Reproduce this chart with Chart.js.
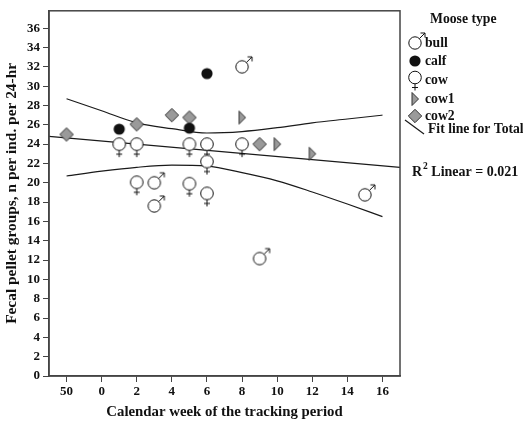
<!DOCTYPE html>
<html><head><meta charset="utf-8">
<script src="https://cdn.jsdelivr.net/npm/chart.js@4"></script>
<style>html,body{margin:0;padding:0;background:#fff}#wrap{width:523px;height:425px;position:relative}</style>
</head><body><div id="wrap"><canvas id="c" width="523" height="425"></canvas></div>
<script>
// ---- data ----
const xTickValues = [-2, 0, 2, 4, 6, 8, 10, 12, 14, 16];
const xTickLabels = ["50", "0", "2", "4", "6", "8", "10", "12", "14", "16"];
const yTickValues = [0, 2, 4, 6, 8, 10, 12, 14, 16, 18, 20, 22, 24, 26, 28, 30, 32, 34, 36];
const seriesNames = ["bull", "calf", "cow", "cow1", "cow2"];
const bullX = [3, 3, 8, 9, 15];
const bullY = [20.0, 17.6, 32.0, 12.15, 18.75];
const calfX = [1, 5, 6];
const calfY = [25.55, 25.65, 31.3];
const cowX = [1, 2, 5, 6, 8, 6, 2, 5, 6];
const cowY = [24.0, 24.0, 24.0, 24.0, 24.0, 22.2, 20.05, 19.9, 18.9];
const cow1X = [8, 10, 12];
const cow1Y = [26.75, 24.0, 23.0];
const cow2X = [-2, 2, 4, 5, 9];
const cow2Y = [25.0, 26.05, 27.0, 26.75, 24.0];
const fitX = [-3, 17];
const fitY = [24.8, 21.6];
const ciX = [-2, 0, 2, 4, 6, 8, 10, 12, 14, 16];
const ciUpper = [28.7, 27.45, 26.2, 25.6, 25.15, 25.3, 25.7, 26.2, 26.6, 27.0];
const ciLower = [20.7, 21.2, 21.6, 21.82, 21.72, 21.05, 20.2, 19.05, 17.8, 16.5];
const r2Text = "0.021";

// ---- marker drawing ----
const INK = '#111', GREY = '#9a9a9a', FONT = '"Liberation Serif", "Times New Roman", serif';
function drawBull(ctx, cx, cy) {
  ctx.lineWidth = 1; ctx.strokeStyle = INK; ctx.fillStyle = '#fff';
  ctx.beginPath(); ctx.arc(cx, cy, 6.2, 0, Math.PI * 2); ctx.fill(); ctx.stroke();
  ctx.beginPath(); ctx.moveTo(cx + 4.4, cy - 4.4); ctx.lineTo(cx + 10, cy - 10); ctx.stroke();
  ctx.beginPath(); ctx.moveTo(cx + 5.5, cy - 10); ctx.lineTo(cx + 10, cy - 10); ctx.lineTo(cx + 10, cy - 5.5); ctx.stroke();
}
function drawCalf(ctx, cx, cy) {
  ctx.fillStyle = INK; ctx.beginPath(); ctx.arc(cx, cy, 5.6, 0, Math.PI * 2); ctx.fill();
}
function drawCow(ctx, cx, cy) {
  ctx.lineWidth = 1; ctx.strokeStyle = INK; ctx.fillStyle = '#fff';
  ctx.beginPath(); ctx.arc(cx, cy, 6.3, 0, Math.PI * 2); ctx.fill(); ctx.stroke();
  ctx.beginPath(); ctx.moveTo(cx, cy + 6.3); ctx.lineTo(cx, cy + 13);
  ctx.moveTo(cx - 3, cy + 10); ctx.lineTo(cx + 3, cy + 10); ctx.stroke();
}
function drawCow1(ctx, cx, cy) {
  ctx.lineWidth = 1; ctx.strokeStyle = '#333'; ctx.fillStyle = GREY;
  ctx.beginPath(); ctx.moveTo(cx - 3, cy - 6.5); ctx.lineTo(cx + 3.5, cy); ctx.lineTo(cx - 3, cy + 6.5); ctx.closePath();
  ctx.fill(); ctx.stroke();
}
function drawCow2(ctx, cx, cy) {
  ctx.lineWidth = 1; ctx.strokeStyle = '#333'; ctx.fillStyle = GREY;
  ctx.beginPath(); ctx.moveTo(cx, cy - 6.7); ctx.lineTo(cx + 6.7, cy); ctx.lineTo(cx, cy + 6.7); ctx.lineTo(cx - 6.7, cy); ctx.closePath();
  ctx.fill(); ctx.stroke();
}
function makeSprite(fn) {
  const c = document.createElement('canvas'); c.width = 32; c.height = 32;
  fn(c.getContext('2d'), 16, 16); return c;
}
const drawers = [drawBull, drawCalf, drawCow, drawCow1, drawCow2];
const sprites = drawers.map(makeSprite);

const pts = (xs, ys) => xs.map((x, i) => ({ x, y: ys[i] }));
const lineStyle = { showLine: true, pointRadius: 0, pointHoverRadius: 0, borderColor: '#1a1a1a', borderWidth: 1.2, fill: false, order: 5 };
const pointSets = [[bullX, bullY], [calfX, calfY], [cowX, cowY], [cow1X, cow1Y], [cow2X, cow2Y]];

const datasets = [
  Object.assign({ label: 'Fit line for Total', data: pts(fitX, fitY), tension: 0 }, lineStyle),
  Object.assign({ label: 'upper', data: pts(ciX, ciUpper), cubicInterpolationMode: 'monotone' }, lineStyle),
  Object.assign({ label: 'lower', data: pts(ciX, ciLower), cubicInterpolationMode: 'monotone' }, lineStyle),
].concat(pointSets.map((p, i) => ({
  label: seriesNames[i], data: pts(p[0], p[1]), showLine: false,
  pointStyle: sprites[i], pointRadius: 6, order: 1
})));

const frame = {
  id: 'frame',
  afterDatasetsDraw(chart) {
    const { ctx, chartArea: a } = chart;
    ctx.save(); ctx.strokeStyle = '#444'; ctx.lineWidth = 1.5;
    ctx.strokeRect(a.left, a.top, a.right - a.left, a.bottom - a.top);
    ctx.restore();
  },
  afterDraw(chart) {
    const ctx = chart.ctx;
    const LF = 'bold 13.7px ' + FONT;
    ctx.save();
    ctx.fillStyle = INK; ctx.textBaseline = 'middle'; ctx.textAlign = 'left';
    ctx.font = LF;
    ctx.fillText('Moose type', 430, 19);
    const ys = [43, 61, 80, 99, 116];
    const my = [43, 61, 77.5, 99, 116];
    seriesNames.forEach((n, i) => {
      drawers[i](ctx, 415, my[i]);
      ctx.fillStyle = INK; ctx.font = LF;
      ctx.fillText(n, 425, ys[i]);
    });
    ctx.strokeStyle = '#1a1a1a'; ctx.lineWidth = 1.2;
    ctx.beginPath(); ctx.moveTo(405, 120); ctx.lineTo(424, 134); ctx.stroke();
    ctx.fillStyle = INK; ctx.font = LF;
    ctx.fillText('Fit line for Total', 428, 129);
    ctx.font = 'bold 14px ' + FONT;
    ctx.fillText('R', 412, 172);
    const rw = ctx.measureText('R').width;
    ctx.font = 'bold 9.5px ' + FONT;
    ctx.fillText('2', 412 + rw + 1, 167);
    const sw = ctx.measureText('2').width;
    ctx.font = 'bold 14px ' + FONT;
    ctx.fillText(' Linear = ' + r2Text, 412 + rw + 1 + sw, 172);
    ctx.restore();
  }
};

new Chart(document.getElementById('c'), {
  type: 'scatter',
  data: { datasets },
  plugins: [frame],
  options: {
    responsive: false, animation: false, devicePixelRatio: 1,
    layout: { padding: { top: 7, right: 123, left: 0, bottom: 0 } },
    plugins: { legend: { display: false }, tooltip: { enabled: false } },
    scales: {
      x: {
        type: 'linear', min: -3, max: 17,
        afterBuildTicks: s => { s.ticks = xTickValues.map(v => ({ value: v })); },
        afterFit: s => { s.height = 49; },
        ticks: { callback: v => xTickLabels[xTickValues.indexOf(v)], font: { family: FONT, size: 13, weight: 'bold' }, color: INK, padding: 2, maxRotation: 0 },
        grid: { drawOnChartArea: false, drawTicks: true, tickLength: 6, color: '#444', lineWidth: 1 },
        border: { display: true, color: '#444', width: 1.5 },
        title: { display: true, text: 'Calendar week of the tracking period', font: { family: FONT, size: 14.8, weight: 'bold' }, color: INK, padding: { top: 0, bottom: 4 } }
      },
      y: {
        type: 'linear', min: 0, max: 37.8,
        afterBuildTicks: s => { s.ticks = yTickValues.map(v => ({ value: v })); },
        afterFit: s => { s.width = 49; },
        ticks: { font: { family: FONT, size: 13, weight: 'bold' }, color: INK, padding: 3 },
        grid: { drawOnChartArea: false, drawTicks: true, tickLength: 6, color: '#444', lineWidth: 1 },
        border: { display: true, color: '#444', width: 1.5 },
        title: { display: true, text: 'Fecal pellet groups, n per ind. per 24-hr', font: { family: FONT, size: 15.4, weight: 'bold' }, color: INK, padding: { top: 3, bottom: 0 } }
      }
    }
  }
});
</script></body></html>
